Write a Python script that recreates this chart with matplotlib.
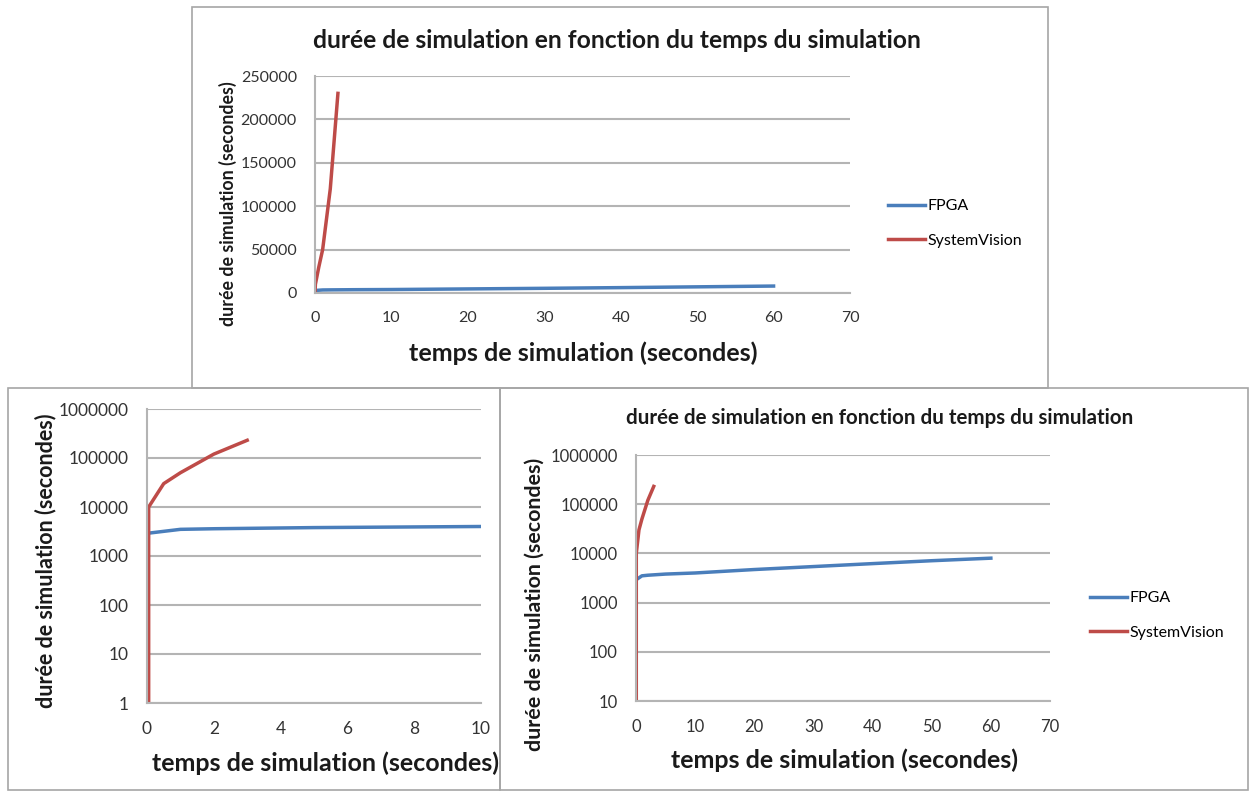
import matplotlib.pyplot as plt
from matplotlib.patches import Rectangle

plt.rcParams['font.family'] = ['Lato', 'DejaVu Sans']

# === Data ===
fpga_x = [0, 1, 2, 5, 10, 20, 30, 40, 50, 60]
fpga_y = [2900, 3500, 3600, 3800, 4000, 4700, 5400, 6200, 7100, 8000]
sv_x = [0, 0.05, 0.5, 1, 2, 3]
sv_y = [0, 10000, 30000, 50000, 120000, 230000]

labels = ['FPGA', 'SystemVision']
title = "durée de simulation en fonction du temps du simulation"
xlabel = "temps de simulation (secondes)"
ylabel = "durée de simulation (secondes)"

top_yticks = [0, 50000, 100000, 150000, 200000, 250000]
top_xticks = [0, 10, 20, 30, 40, 50, 60, 70]
left_yticks = [1, 10, 100, 1000, 10000, 100000, 1000000]
left_xticks = [0, 2, 4, 6, 8, 10]
right_yticks = [10, 100, 1000, 10000, 100000, 1000000]

BLUE = '#4a7ebb'
RED = '#be4b48'
GRID = '#b4b4b4'
FRAME = '#a6a6a6'
TXT = '#1a1a1a'

W, H = 1251, 796
fig = plt.figure(figsize=(W / 100, H / 100), dpi=100)


def fx(px):
    return px / W


def fy(py):
    return 1 - py / H


def panel(x0, y0, x1, y1):
    fig.add_artist(Rectangle((fx(x0), fy(y1)), fx(x1 - x0), (y1 - y0) / H,
                             transform=fig.transFigure, fill=False,
                             edgecolor=FRAME, linewidth=1.2))


def make_axes(l, t, r, b):
    ax = fig.add_axes([fx(l), fy(b), fx(r - l), (b - t) / H])
    for s in ['top', 'right']:
        ax.spines[s].set_visible(False)
    for s in ['left', 'bottom']:
        ax.spines[s].set_color(GRID)
        ax.spines[s].set_linewidth(1.5)
    ax.grid(axis='y', color=GRID, linewidth=1.5)
    ax.set_axisbelow(True)
    ax.tick_params(length=0, colors='#333333', labelsize=11.5, pad=13)
    return ax


def label(x, y, s, size, rot=0):
    fig.text(fx(x), fy(y), s, ha='center', va='center', rotation=rot,
             fontsize=size, fontweight='bold', color=TXT)


# frames of the three pasted panels
panel(192, 7, 1048, 388)
panel(8, 388, 500, 790)
panel(500, 388, 1248, 790)

# === Top panel (linear) ===
ax1 = make_axes(315, 76, 850, 293)
ax1.plot(fpga_x, fpga_y, color=BLUE, lw=2.5, label=labels[0])
ax1.plot(sv_x, sv_y, color=RED, lw=2.5, label=labels[1])
ax1.set_xlim(0, 70)
ax1.set_ylim(0, 250000)
ax1.set_xticks(top_xticks)
ax1.set_yticks(top_yticks)
label(617, 40, title, 17.7)
label(583, 353, xlabel, 18.1)
label(228, 204, ylabel, 12.8, 90)
ax1.legend(loc='center left', bbox_to_anchor=(fx(888), fy(223.5)), bbox_transform=fig.transFigure,
           frameon=False, fontsize=11.5, handlelength=2.3, handletextpad=0.15,
           labelspacing=1.3, borderpad=0, borderaxespad=0)

# === Bottom left panel (log, zoom 0-10 s) ===
ax2 = make_axes(147, 409, 481, 703)
ax2.plot(fpga_x, fpga_y, color=BLUE, lw=2.5)
ax2.plot(sv_x, sv_y, color=RED, lw=2.5)
ax2.set_yscale('log', nonpositive='clip')
ax2.set_xlim(0, 10)
ax2.set_ylim(1, 1000000)
ax2.set_xticks(left_xticks)
ax2.set_yticks(left_yticks)
ax2.set_yticklabels([str(v) for v in left_yticks])
ax2.minorticks_off()
ax2.tick_params(labelsize=12.5)
label(325, 763, xlabel, 18)
label(46, 561, ylabel, 15.5, 90)

# === Bottom right panel (log, full range) ===
ax3 = make_axes(636, 455, 1050, 701)
ax3.plot(fpga_x, fpga_y, color=BLUE, lw=2.5, label=labels[0])
ax3.plot(sv_x, sv_y, color=RED, lw=2.5, label=labels[1])
ax3.set_yscale('log', nonpositive='clip')
ax3.set_xlim(0, 70)
ax3.set_ylim(10, 1000000)
ax3.set_xticks(top_xticks)
ax3.set_yticks(right_yticks)
ax3.set_yticklabels([str(v) for v in right_yticks])
ax3.minorticks_off()
ax3.tick_params(labelsize=12)
label(880, 418, title, 14.8)
label(845, 760, xlabel, 18)
label(535, 604, ylabel, 15.4, 90)
ax3.legend(loc='center left', bbox_to_anchor=(fx(1090), fy(615.5)), bbox_transform=fig.transFigure,
           frameon=False, fontsize=11.5, handlelength=2.3, handletextpad=0.15,
           labelspacing=1.3, borderpad=0, borderaxespad=0)

fig.savefig('out.png', dpi=100)
plt.close()
